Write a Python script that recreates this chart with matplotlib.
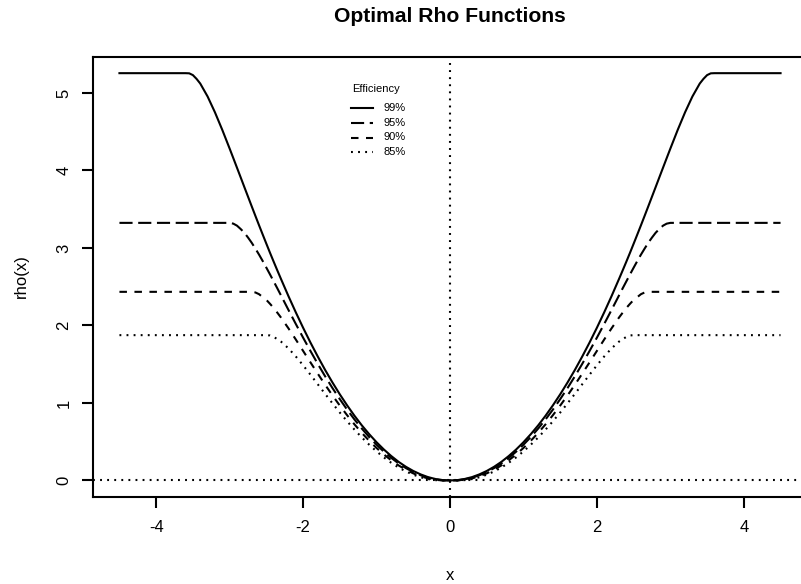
import matplotlib
matplotlib.use("Agg")
import matplotlib.pyplot as plt
import numpy as np

plt.rcParams['font.family'] = ['Liberation Sans', 'DejaVu Sans']
plt.rcParams['axes.unicode_minus'] = False

# rho(x) for x >= 0 (curves are symmetric),
# sampled a bit finer where the curves bend into their plateaus
x_half = [0.0, 0.1, 0.2, 0.3, 0.4, 0.5, 0.6, 0.7, 0.8, 0.9,
          1.0, 1.1, 1.2, 1.3, 1.4, 1.5, 1.6, 1.7, 1.8, 1.9,
          2.0, 2.1, 2.2, 2.3,
          2.35, 2.4, 2.45, 2.5, 2.55, 2.6, 2.65, 2.7, 2.75, 2.8,
          2.85, 2.9, 2.95, 3.0,
          3.1, 3.2, 3.3, 3.4,
          3.45, 3.5, 3.55, 3.6,
          3.7, 3.8, 3.9, 4.0, 4.1, 4.2, 4.3, 4.4, 4.5]
rho_99 = [0.000, 0.004, 0.019, 0.043, 0.078, 0.122, 0.176, 0.240, 0.315, 0.399,
          0.493, 0.597, 0.710, 0.834, 0.968, 1.111, 1.264, 1.426, 1.599, 1.780,
          1.971, 2.171, 2.380, 2.598,
          2.709, 2.822, 2.937, 3.055, 3.174, 3.294, 3.416, 3.539, 3.663, 3.787,
          3.912, 4.036, 4.160, 4.283,
          4.524, 4.751, 4.955, 5.122,
          5.182, 5.231, 5.254, 5.256,
          5.256, 5.256, 5.256, 5.256, 5.256, 5.256, 5.256, 5.256, 5.256]
rho_95 = [0.000, 0.002, 0.014, 0.035, 0.067, 0.108, 0.159, 0.220, 0.291, 0.371,
          0.461, 0.560, 0.669, 0.786, 0.913, 1.049, 1.192, 1.344, 1.504, 1.671,
          1.843, 2.021, 2.202, 2.386,
          2.478, 2.568, 2.658, 2.746, 2.832, 2.915, 2.993, 3.068, 3.135, 3.197,
          3.245, 3.288, 3.314, 3.324,
          3.324, 3.324, 3.324, 3.324,
          3.324, 3.324, 3.324, 3.324,
          3.324, 3.324, 3.324, 3.324, 3.324, 3.324, 3.324, 3.324, 3.324]
rho_90 = [0.000, 0.000, 0.008, 0.026, 0.054, 0.091, 0.138, 0.194, 0.260, 0.335,
          0.419, 0.512, 0.613, 0.723, 0.841, 0.966, 1.097, 1.235, 1.378, 1.524,
          1.672, 1.820, 1.964, 2.101,
          2.164, 2.225, 2.279, 2.330, 2.366, 2.404, 2.426, 2.434, 2.434, 2.434,
          2.434, 2.434, 2.434, 2.434,
          2.434, 2.434, 2.434, 2.434,
          2.434, 2.434, 2.434, 2.434,
          2.434, 2.434, 2.434, 2.434, 2.434, 2.434, 2.434, 2.434, 2.434]
rho_85 = [0.000, 0.000, 0.004, 0.018, 0.041, 0.074, 0.116, 0.167, 0.228, 0.297,
          0.375, 0.461, 0.554, 0.655, 0.763, 0.876, 0.995, 1.117, 1.241, 1.365,
          1.486, 1.601, 1.705, 1.791,
          1.823, 1.852, 1.871, 1.875, 1.875, 1.875, 1.875, 1.875, 1.875, 1.875,
          1.875, 1.875, 1.875, 1.875,
          1.875, 1.875, 1.875, 1.875,
          1.875, 1.875, 1.875, 1.875,
          1.875, 1.875, 1.875, 1.875, 1.875, 1.875, 1.875, 1.875, 1.875]

labels = ['99%', '95%', '90%', '85%']
# R line types: solid, longdash, dashed, dotted
styles = ['-', (0, (6.3, 2.7)), (0, (3.6, 3.6)), (0, (0.9, 2.5))]
xticks = [-4, -2, 0, 2, 4]
yticks = [0, 1, 2, 3, 4, 5]

xh = np.array(x_half)
x = np.concatenate([-xh[::-1], xh[1:]])

fig = plt.figure(figsize=(8.01, 5.84), dpi=100)
# plot region: R's box runs slightly past the right edge of the picture
ax = fig.add_axes([93 / 801, 87.3 / 584, 714 / 801, 439.8 / 584])

lw = 1.5
for rho, ls in zip([rho_99, rho_95, rho_90, rho_85], styles):
    r = np.array(rho)
    y = np.concatenate([r[::-1], r[1:]])
    ax.plot(x, y, color='black', lw=lw, linestyle=ls, dash_capstyle='butt')

ax.axvline(0, color='black', lw=lw, linestyle=styles[3])
ax.axhline(0, color='black', lw=lw, linestyle=styles[3])

ax.set_xlim(-4.86, 4.86)
ax.set_ylim(-0.21, 5.466)
ax.set_xticks(xticks)
ax.set_yticks(yticks)
ax.tick_params(axis='both', length=8, width=lw, labelsize=12, direction='out')
ax.tick_params(axis='x', pad=8.5)
ax.tick_params(axis='y', pad=7.5, labelrotation=90)
for lab in ax.get_yticklabels():
    lab.set_va('center')
for sp in ax.spines.values():
    sp.set_linewidth(lw)

fig.text(450 / 801, 1 - 16 / 584, 'Optimal Rho Functions', ha='center', va='center',
         fontsize=15.2, fontweight='bold')
fig.text(450 / 801, 1 - 575 / 584, 'x', ha='center', va='center', fontsize=12)
fig.text(21 / 801, 1 - 276 / 584, 'rho(x)', ha='center', va='center', fontsize=12,
         rotation=90)

# legend, drawn by hand like R's legend(bty = "n")
def ax_xy(px, py):
    return (px - 93) / 714, (496.7 - py) / 439.8

tx, ty = ax_xy(352, 89)
ax.text(tx, ty, 'Efficiency', transform=ax.transAxes, fontsize=8, va='center', ha='left')
rows = [108, 123, 137.5, 152]
for lab, ls, py in zip(labels, styles, rows):
    x0, yy = ax_xy(351, py)
    x1, _ = ax_xy(373, py)
    ax.plot([x0, x1], [yy, yy], transform=ax.transAxes, color='black', lw=lw,
            linestyle=ls, dash_capstyle='butt', clip_on=False)
    lx, _ = ax_xy(384, py)
    ax.text(lx, yy, lab, transform=ax.transAxes, fontsize=8, va='center', ha='left')

fig.savefig('out.png', dpi=100)
